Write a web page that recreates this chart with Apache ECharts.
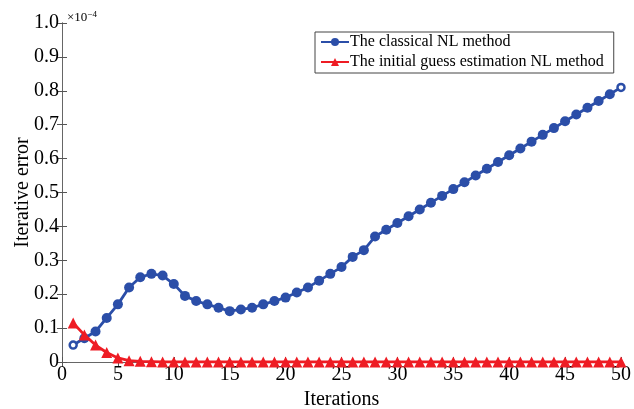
<!DOCTYPE html>
<html>
<head>
<meta charset="utf-8">
<script src="https://cdn.jsdelivr.net/npm/echarts@6/dist/echarts.min.js"></script>
<style>
  html, body { margin: 0; padding: 0; background: #fff; }
  #chart { width: 634px; height: 409px; }
</style>
</head>
<body>
<div id="chart"></div>
<script>
// iterations 1..50, error in units of 1e-4
const iterations = Array.from({ length: 50 }, (_, i) => i + 1)
const classicalNL = [
  0.05, 0.07, 0.09, 0.13, 0.17, 0.22, 0.25, 0.26, 0.255, 0.23,
  0.195, 0.18, 0.17, 0.16, 0.15, 0.155, 0.16, 0.17, 0.18, 0.19,
  0.205, 0.22, 0.24, 0.26, 0.28, 0.31, 0.33, 0.37, 0.39, 0.41,
  0.43, 0.45, 0.47, 0.49, 0.51, 0.53, 0.55, 0.57, 0.59, 0.61,
  0.63, 0.65, 0.67, 0.69, 0.71, 0.73, 0.75, 0.77, 0.79, 0.81
]
const initialGuessNL = [
  0.115, 0.08, 0.05, 0.028, 0.012, 0.004, 0.002, 0.001, 0, 0,
  0, 0, 0, 0, 0, 0, 0, 0, 0, 0,
  0, 0, 0, 0, 0, 0, 0, 0, 0, 0,
  0, 0, 0, 0, 0, 0, 0, 0, 0, 0,
  0, 0, 0, 0, 0, 0, 0, 0, 0, 0
]
const seriesNames = ['The classical NL method', 'The initial guess estimation NL method']

const blue = '#2b4ea8'
const red = '#ee1c24'
const font = 'Liberation Serif'

const chart = echarts.init(document.getElementById('chart'))

// first and last blue markers look hollow in the original
const blueData = classicalNL.map((v, i) => {
  const p = [iterations[i], v]
  if (i === 0 || i === classicalNL.length - 1) {
    return { value: p, symbolSize: 7, itemStyle: { color: '#fff', borderColor: blue, borderWidth: 2.5 } }
  }
  return p
})
const redData = initialGuessNL.map((v, i) => [iterations[i], v])

const tickStyle = { show: true, inside: true, length: 5, lineStyle: { color: '#555' } }
const lineStyle = { color: '#666', width: 1 }

chart.setOption({
  animation: false,
  backgroundColor: '#fff',
  textStyle: { fontFamily: font },
  title: {
    text: '×10{sup|−4}',
    left: 62,
    top: 5,
    textStyle: {
      fontFamily: font,
      fontSize: 13,
      fontWeight: 'normal',
      color: '#000',
      rich: { sup: { fontFamily: font, fontSize: 9, verticalAlign: 'top', padding: [0, 0, 6, 0] } }
    }
  },
  grid: { left: 62, right: 13, top: 23, bottom: 47, outerBoundsMode: 'none' },
  legend: {
    orient: 'vertical',
    left: 315,
    top: 32,
    width: 298,
    padding: [2, 10, 3, 5],
    itemGap: 4,
    itemWidth: 28,
    itemHeight: 10,
    borderColor: '#444',
    borderWidth: 1,
    backgroundColor: '#fff',
    textStyle: { fontFamily: font, fontSize: 16, color: '#000', padding: [0, 0, 0, -4] },
    data: seriesNames
  },
  xAxis: [
    {
      type: 'value',
      min: 0,
      max: 50,
      interval: 5,
      name: 'Iterations',
      nameLocation: 'middle',
      nameGap: 27,
      nameTextStyle: { fontFamily: font, fontSize: 20, color: '#000' },
      axisLine: { lineStyle },
      axisTick: tickStyle,
      axisLabel: { fontFamily: font, fontSize: 20, color: '#000', margin: 3 },
      splitLine: { show: false }
    },
    {
      type: 'value',
      position: 'top',
      min: 0,
      max: 50,
      interval: 5,
      axisLine: { lineStyle },
      axisTick: tickStyle,
      axisLabel: { show: false },
      splitLine: { show: false }
    }
  ],
  yAxis: [
    {
      type: 'value',
      min: 0,
      max: 1,
      interval: 0.1,
      name: 'Iterative error',
      nameLocation: 'middle',
      nameGap: 29,
      nameMoveOverlap: false,
      nameTextStyle: { fontFamily: font, fontSize: 20, color: '#000' },
      axisLine: { show: true, lineStyle },
      axisTick: tickStyle,
      axisLabel: {
        fontFamily: font,
        fontSize: 20,
        color: '#000',
        margin: 3,
        formatter: v => (v === 0 ? '0' : v.toFixed(1))
      },
      splitLine: { show: false }
    },
    {
      type: 'value',
      position: 'right',
      min: 0,
      max: 1,
      interval: 0.1,
      axisLine: { show: true, lineStyle },
      axisTick: tickStyle,
      axisLabel: { show: false },
      splitLine: { show: false }
    }
  ],
  series: [
    {
      name: seriesNames[0],
      type: 'line',
      data: blueData,
      symbol: 'circle',
      symbolSize: 10,
      color: blue,
      lineStyle: { color: blue, width: 2.8 },
      itemStyle: { color: blue },
      z: 3
    },
    {
      name: seriesNames[1],
      type: 'line',
      data: redData,
      symbol: 'triangle',
      symbolSize: 11,
      color: red,
      lineStyle: { color: red, width: 2.8 },
      itemStyle: { color: red },
      z: 4
    }
  ]
})
</script>
</body>
</html>
